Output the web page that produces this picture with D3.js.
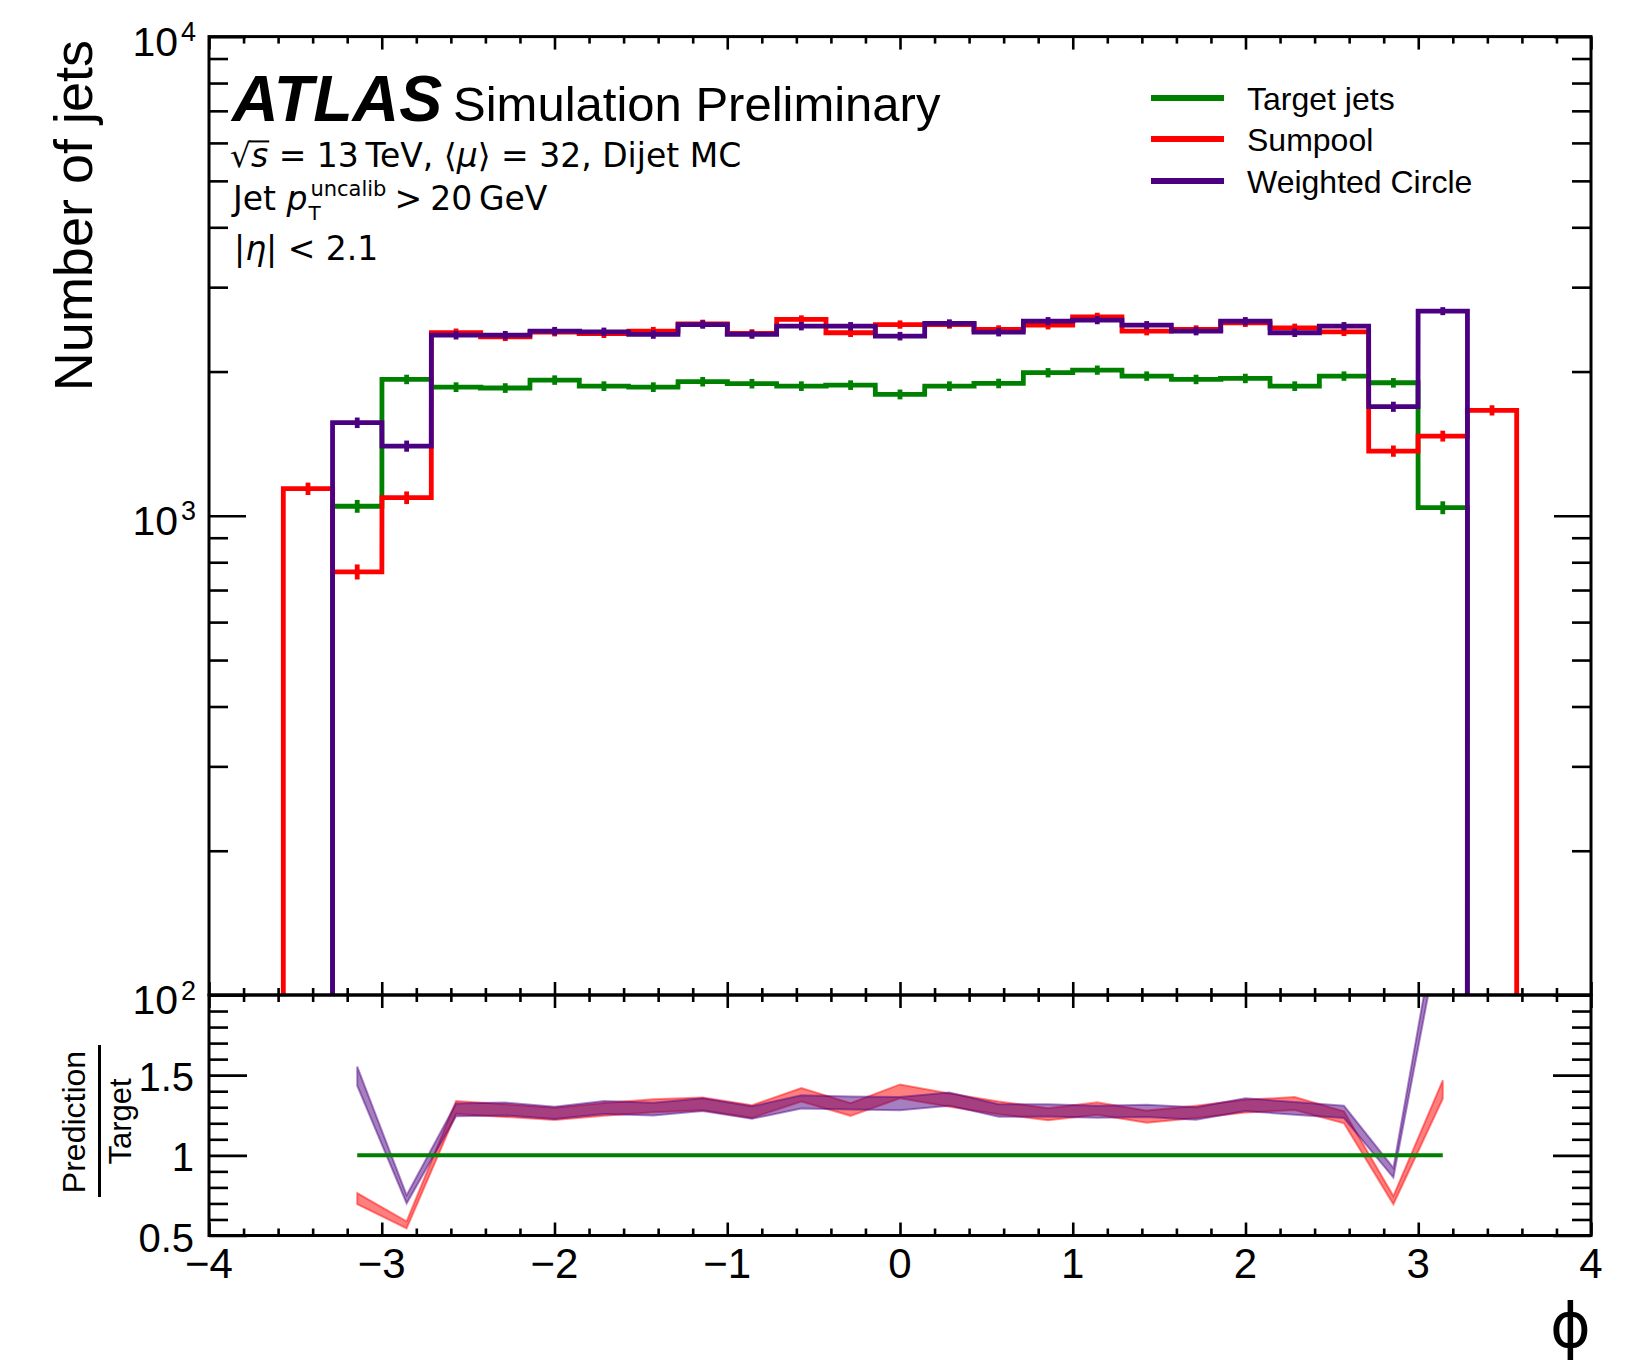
<!DOCTYPE html>
<html>
<head>
<meta charset="utf-8">
<script src="https://cdn.jsdelivr.net/npm/d3@7"></script>
<style>
  html, body { margin: 0; padding: 0; background: #fff; }
  svg { display: block; }
  .lab { font-family: "Liberation Sans", Arial, Helvetica, sans-serif; fill: #000; }
  .math { font-family: "DejaVu Sans", sans-serif; fill: #000; }
</style>
</head>
<body>
<svg id="chart" width="1639" height="1363"></svg>
<script>
// ---- phi binning (22 bins over 2*pi, plus one overflow bin each side) ----
const binWidth = Math.PI / 11;
const binCentres = [-3.427, -3.142, -2.856, -2.570, -2.285, -1.999, -1.714, -1.428, -1.142,
                    -0.857, -0.571, -0.286, 0.000, 0.286, 0.571, 0.857, 1.142, 1.428, 1.714,
                    1.999, 2.285, 2.570, 2.856, 3.142, 3.427];

// ---- jet counts per bin (null = empty bin) ----
const targetJets = [null, 1047, 1926, 1856, 1848, 1920, 1865, 1856, 1905, 1887, 1865, 1874, 1792,
                    1865, 1889, 1989, 2014, 1957, 1926, 1935, 1865, 1957, 1895, 1040, null];
const sumpool = [1139, 764, 1091, 2410, 2364, 2417, 2399, 2429, 2516, 2402, 2569, 2410, 2507,
                 2507, 2448, 2499, 2602, 2429, 2448, 2528, 2468, 2421, 1365, 1467, 1660];
const weightedCircle = [null, 1564, 1398, 2382, 2382, 2429, 2421, 2390, 2507, 2390, 2487, 2487, 2371,
                        2520, 2417, 2548, 2561, 2499, 2429, 2548, 2410, 2487, 1689, 2674, null];

const seriesNames = ["Target jets", "Sumpool", "Weighted Circle"];
const seriesColours = ["#008000", "#ff0000", "#4b0082"];

// ---- axis ticks ----
const xMajorTicks = [-4, -3, -2, -1, 0, 1, 2, 3, 4];
const xTickLabels = ["\u22124", "\u22123", "\u22122", "\u22121", "0", "1", "2", "3", "4"];
const yMainDecades = [2, 3, 4];
const yRatioTicks = [0.5, 1, 1.5];
const yRatioTickLabels = ["0.5", "1", "1.5"];

// ---- layout ----
const L = 209, R = 1591, T = 36.6, M = 995, B = 1235.5;

const svg = d3.select("#chart");
const x = d3.scaleLinear().domain([-4, 4]).range([L, R]);
const yMain = d3.scaleLog().domain([100, 10000]).range([M, T]);
const yRatio = d3.scaleLinear().domain([0.5, 2.0]).range([B, M]);

const defs = svg.append("defs");
defs.append("clipPath").attr("id", "clipMain")
  .append("rect").attr("x", L).attr("y", T).attr("width", R - L).attr("height", M - T);
defs.append("clipPath").attr("id", "clipRatio")
  .append("rect").attr("x", L).attr("y", M).attr("width", R - L).attr("height", B - M);

// ---- histograms (main panel) ----
const mainG = svg.append("g").attr("clip-path", "url(#clipMain)");
const yBelow = M + 20;

function stepPath(vals) {
  const p = d3.path();
  let open = false, lastHi = 0;
  vals.forEach((v, i) => {
    const lo = x(binCentres[i] - binWidth / 2), hi = x(binCentres[i] + binWidth / 2);
    if (v == null) {
      if (open) { p.lineTo(lo, yBelow); open = false; }
      return;
    }
    if (!open) { p.moveTo(lo, yBelow); open = true; }
    p.lineTo(lo, yMain(v));
    p.lineTo(hi, yMain(v));
    lastHi = hi;
  });
  if (open) p.lineTo(lastHi, yBelow);
  return p.toString();
}

const allSeries = [targetJets, sumpool, weightedCircle];
allSeries.forEach((vals, s) => {
  mainG.append("path")
    .attr("d", stepPath(vals))
    .attr("fill", "none")
    .attr("stroke", seriesColours[s])
    .attr("stroke-width", 4.8)
    .attr("stroke-linejoin", "miter");
  const pts = vals.map((v, i) => ({ v, c: binCentres[i] })).filter(d => d.v != null);
  mainG.append("g").selectAll("line").data(pts).join("line")
    .attr("x1", d => x(d.c)).attr("x2", d => x(d.c))
    .attr("y1", d => yMain(d.v - Math.sqrt(d.v)))
    .attr("y2", d => yMain(d.v + Math.sqrt(d.v)))
    .attr("stroke", seriesColours[s])
    .attr("stroke-width", 4.8);
});

// ---- ratio panel ----
const ratioG = svg.append("g").attr("clip-path", "url(#clipRatio)");
function ratioPoints(pred) {
  const out = [];
  pred.forEach((p, i) => {
    const t = targetJets[i];
    if (p == null || t == null) return;
    const r = p / t;
    out.push({ c: binCentres[i], r, e: r * Math.sqrt(1 / p + 1 / t) });
  });
  return out;
}
const band = d3.area()
  .x(d => x(d.c))
  .y0(d => yRatio(d.r - d.e))
  .y1(d => yRatio(d.r + d.e));

[[sumpool, 1], [weightedCircle, 2]].forEach(([pred, s]) => {
  ratioG.append("path")
    .attr("d", band(ratioPoints(pred)))
    .attr("fill", seriesColours[s])
    .attr("fill-opacity", 0.5)
    .attr("stroke", seriesColours[s])
    .attr("stroke-opacity", 0.45)
    .attr("stroke-width", 2)
    .attr("stroke-linejoin", "miter");
});
const targetCentres = binCentres.filter((c, i) => targetJets[i] != null);
ratioG.append("path")
  .attr("d", d3.line().x(d => x(d)).y(() => yRatio(1))(targetCentres))
  .attr("fill", "none")
  .attr("stroke", seriesColours[0])
  .attr("stroke-width", 4);

// ---- frames ----
[[T, M], [M, B]].forEach(([t, b]) => {
  svg.append("rect").attr("x", L).attr("y", t).attr("width", R - L).attr("height", b - t)
    .attr("fill", "none").attr("stroke", "#000").attr("stroke-width", 3);
});

// ---- ticks ----
const xMinorTicks = d3.range(-40, 41, 2).map(v => v / 10).filter(v => !Number.isInteger(v));
function tickAxis(axis, tx, ty, values, size) {
  const g = svg.append("g").attr("transform", `translate(${tx},${ty})`)
    .call(axis.tickValues(values).tickSize(size).tickFormat(""));
  g.select(".domain").remove();
  g.selectAll("line").attr("stroke", "#000").attr("stroke-width", 2.6);
}
// x ticks: both panels, top and bottom edges
[[T, "top"], [M, "bottom"], [M, "top"], [B, "bottom"]].forEach(([yy, side]) => {
  const ax = side === "top" ? d3.axisTop : d3.axisBottom;
  tickAxis(ax(x), 0, yy, xMajorTicks, -13);
  tickAxis(ax(x), 0, yy, xMinorTicks, -7);
});
// main y ticks (log)
const yMainMajor = yMainDecades.map(d => Math.pow(10, d));
const yMainMinor = [];
[100, 1000].forEach(dec => { for (let m = 2; m <= 9; m++) yMainMinor.push(m * dec); });
[[d3.axisLeft, L], [d3.axisRight, R]].forEach(([ax, xx]) => {
  tickAxis(ax(yMain), xx, 0, yMainMajor, -37);
  tickAxis(ax(yMain), xx, 0, yMainMinor, -19);
});
// ratio y ticks
const yRatioMajor = [0.5, 1, 1.5, 2];
const yRatioMinor = d3.range(6, 20).map(v => v / 10).filter(v => v !== 1 && v !== 1.5);
[[d3.axisLeft, L], [d3.axisRight, R]].forEach(([ax, xx]) => {
  tickAxis(ax(yRatio), xx, 0, yRatioMajor, -38);
  tickAxis(ax(yRatio), xx, 0, yRatioMinor, -19);
});

// ---- tick labels ----
svg.append("g").selectAll("text").data(xMajorTicks).join("text")
  .attr("class", "lab")
  .attr("x", d => x(d)).attr("y", B + 42.5)
  .attr("text-anchor", "middle")
  .attr("font-size", 42)
  .text((d, i) => xTickLabels[i]);

svg.append("g").selectAll("text").data(yMainDecades).join("text")
  .attr("class", "lab")
  .attr("x", 178).attr("y", d => yMain(Math.pow(10, d)) + 19)
  .attr("text-anchor", "end")
  .attr("font-size", 41)
  .text("10");
svg.append("g").selectAll("text").data(yMainDecades).join("text")
  .attr("class", "lab")
  .attr("x", 181).attr("y", d => yMain(Math.pow(10, d)) + 4.5)
  .attr("font-size", 27)
  .text(d => d);

svg.append("g").selectAll("text").data(yRatioTicks).join("text")
  .attr("class", "lab")
  .attr("x", 194).attr("y", d => yRatio(d) + 16)
  .attr("text-anchor", "end")
  .attr("font-size", 40)
  .text((d, i) => yRatioTickLabels[i]);

// ---- axis titles ----
svg.append("text").attr("class", "lab")
  .attr("transform", "translate(92,40) rotate(-90)")
  .attr("text-anchor", "end")
  .attr("font-size", 54)
  .text("Number of jets");

svg.append("text").attr("class", "lab")
  .attr("transform", "translate(85,1122) rotate(-90)")
  .attr("text-anchor", "middle")
  .attr("font-size", 32)
  .text("Prediction");
svg.append("line").attr("x1", 99.5).attr("x2", 99.5).attr("y1", 1045).attr("y2", 1197)
  .attr("stroke", "#000").attr("stroke-width", 3);
svg.append("text").attr("class", "lab")
  .attr("transform", "translate(131,1121.5) rotate(-90)")
  .attr("text-anchor", "middle")
  .attr("font-size", 31)
  .text("Target");

svg.append("text").attr("class", "math")
  .attr("x", R).attr("y", 1347)
  .attr("text-anchor", "end")
  .attr("font-size", 62)
  .text("\u03d5");

// ---- ATLAS label ----
svg.append("text").attr("class", "lab")
  .attr("x", 232).attr("y", 121)
  .attr("font-size", 64.5).attr("font-weight", "bold").attr("font-style", "italic")
  .text("ATLAS");
svg.append("text").attr("class", "lab")
  .attr("x", 453).attr("y", 121)
  .attr("font-size", 49)
  .text("Simulation Preliminary");

// ---- conditions text ----
const fs = 33;
const line1 = svg.append("text").attr("class", "math").attr("x", 230).attr("y", 167).attr("font-size", fs);
line1.append("tspan").text("\u221a");
line1.append("tspan").attr("font-style", "italic").text("s");
line1.append("tspan").text(" = 13\u2009TeV, \u27e8");
line1.append("tspan").attr("font-style", "italic").text("\u03bc");
line1.append("tspan").text("\u27e9 = 32, Dijet MC");
{
  const node = line1.node();
  const rad = node.getExtentOfChar(0);
  const sx = node.getExtentOfChar(1);
  svg.append("line")
    .attr("x1", rad.x + rad.width - 2).attr("x2", sx.x + sx.width + 1)
    .attr("y1", 167 - 0.775 * fs).attr("y2", 167 - 0.775 * fs)
    .attr("stroke", "#000").attr("stroke-width", 2);
}

// second line: main text, then the stacked sub/superscript as separate labels
const line2 = svg.append("text").attr("class", "math").attr("x", 233).attr("y", 210).attr("font-size", fs);
line2.append("tspan").text("Jet ");
line2.append("tspan").attr("font-style", "italic").text("p");
const pEnd = line2.node().getComputedTextLength() + 233;
svg.append("text").attr("class", "math")
  .attr("x", pEnd + 1).attr("y", 220).attr("font-size", 20).text("T");
const sup = svg.append("text").attr("class", "math")
  .attr("x", pEnd + 3).attr("y", 196).attr("font-size", 21).text("uncalib");
const supEnd = pEnd + 3 + sup.node().getComputedTextLength();
svg.append("text").attr("class", "math")
  .attr("x", supEnd + 8).attr("y", 210).attr("font-size", fs)
  .text(">\u200520\u2009GeV");

const line3 = svg.append("text").attr("class", "math").attr("x", 234).attr("y", 260).attr("font-size", fs);
line3.append("tspan").text("|");
line3.append("tspan").attr("font-style", "italic").text("\u03b7");
line3.append("tspan").text("| < 2.1");

// ---- legend ----
const legY = [98, 139, 181];
const leg = svg.append("g").selectAll("g").data(seriesNames).join("g");
leg.append("line")
  .attr("x1", 1151).attr("x2", 1224)
  .attr("y1", (d, i) => legY[i]).attr("y2", (d, i) => legY[i])
  .attr("stroke", (d, i) => seriesColours[i])
  .attr("stroke-width", 6);
leg.append("text").attr("class", "lab")
  .attr("x", 1247).attr("y", (d, i) => legY[i] + 11.5)
  .attr("font-size", 32)
  .text(d => d);
</script>
</body>
</html>
